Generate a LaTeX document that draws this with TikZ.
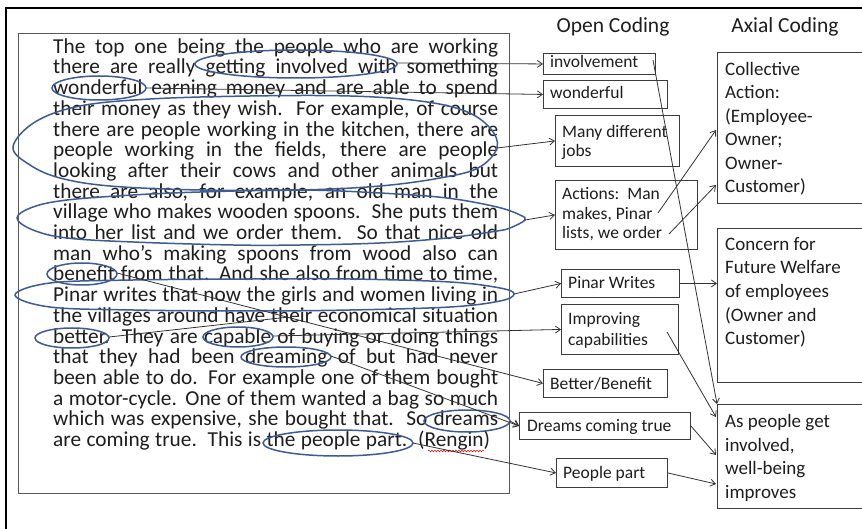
\documentclass[tikz,border=0pt]{standalone}
\usepackage{fontspec}
\setmainfont{Carlito}
\usetikzlibrary{arrows.meta,calc,decorations.pathmorphing}
\definecolor{ellblue}{RGB}{62,92,145}
\definecolor{txt}{RGB}{30,30,30}
\definecolor{boxc}{RGB}{60,60,60}
\begin{document}
\begin{tikzpicture}[x=1pt,y=-1pt,
  tl/.style={anchor=base west, inner sep=0pt, text=txt, font=\fontsize{21.3}{24}\selectfont},
  hd/.style={anchor=base, inner sep=0pt, text=txt, font=\fontsize{21.5}{24}\selectfont},
  sb/.style={draw=boxc, line width=0.9pt, anchor=north west, inner sep=0pt},
  st/.style={anchor=base west, inner sep=0pt, text=txt, font=\fontsize{17.5}{20}\selectfont},
  bt/.style={anchor=base west, inner sep=0pt, text=txt, font=\fontsize{19}{22}\selectfont},
  ell/.style={draw=ellblue, line width=1.5pt},
  arr/.style={draw=black!80, line width=0.8pt, -{Straight Barb[length=5pt,width=7pt]}},
  ln/.style={draw=black!80, line width=0.8pt}]
\useasboundingbox (0,0) rectangle (862,529);
\clip (0,0) rectangle (862,529);
\fill[white] (0,0) rectangle (862,529);
% outer frame
\draw[line width=2.7pt] (6,531) -- (6,8) -- (864,8);
% main text box
\node[draw=gray!70!black, line width=1.4pt, anchor=north west, minimum width=491pt, minimum height=460pt, inner sep=0pt] (tb) at (18,33) {};
% text lines
\node[tl] (t1) at (53,53.3) {\makebox[445pt][s]{The top one being the people who are working}};
\node[tl] (t2) at (53,74.0) {\makebox[445pt][s]{there are really getting involved with something}};
\node[tl] (t3) at (53,94.7) {\makebox[445pt][s]{wonderful earning money and are able to spend}};
\node[tl] (t4) at (53,115.4) {\makebox[445pt][s]{their money as they wish.\ \ For example, of course}};
\node[tl] (t5) at (53,136.1) {\makebox[445pt][s]{there are people working in the kitchen, there are}};
\node[tl] (t6) at (53,156.8) {\makebox[445pt][s]{people working in the fields, there are people}};
\node[tl] (t7) at (53,177.5) {\makebox[445pt][s]{looking after their cows and other animals but}};
\node[tl] (t8) at (53,198.2) {\makebox[445pt][s]{there are also, for example, an old man in the}};
\node[tl] (t9) at (53,218.9) {\makebox[445pt][s]{village who makes wooden spoons.\ \ She puts them}};
\node[tl] (t10) at (53,239.6) {\makebox[445pt][s]{into her list and we order them.\ \ So that nice old}};
\node[tl] (t11) at (53,260.3) {\makebox[445pt][s]{man who’s making spoons from wood also can}};
\node[tl] (t12) at (53,281.0) {\makebox[445pt][s]{benefit from that. And she also from time to time,}};
\node[tl] (t13) at (53,301.7) {\makebox[445pt][s]{Pinar writes that now the girls and women living in}};
\node[tl] (t14) at (53,322.4) {\makebox[445pt][s]{the villages around have their economical situation}};
\node[tl] (t15) at (53,343.1) {\makebox[445pt][s]{better.\ \ They are capable of buying or doing things}};
\node[tl] (t16) at (53,363.8) {\makebox[445pt][s]{that they had been dreaming of but had never}};
\node[tl] (t17) at (53,384.5) {\makebox[445pt][s]{been able to do. For example one of them bought}};
\node[tl] (t18) at (53,405.2) {\makebox[445pt][s]{a motor-cycle. One of them wanted a bag so much}};
\node[tl] (t19) at (53,425.9) {\makebox[445pt][s]{which was expensive, she bought that.\ \ So dreams}};
\node[tl] (t20) at (53,446.6) {\makebox[437pt][s]{are coming true.\ \ This is the people part.\ \ (Rengin)}};
\draw[red, line width=0.6pt, decorate, decoration={snake, segment length=3pt, amplitude=0.7pt}] (428,451) -- (484,451);
% headers
\node[hd] (h1) at (613,33) {Open Coding};
\node[hd] (h2) at (785,33) {Axial Coding};
% open coding boxes
\node[sb, minimum width=112pt, minimum height=21pt] (inv) at (543,53) {};
\node[st] (inv1) at (550,68) {involvement};
\node[sb, minimum width=124pt, minimum height=28pt] (won) at (543,80) {};
\node[st] (won1) at (550,99) {wonderful};
\node[sb, minimum width=124pt, minimum height=51pt] (many) at (555,115) {};
\node[st] (many1) at (562,138) {Many different};
\node[st] (many2) at (562,157) {jobs};
\node[sb, minimum width=142pt, minimum height=69pt] (act) at (555,180) {};
\node[st] (act1) at (562,200) {Actions:\ \ Man};
\node[st] (act2) at (562,219.5) {makes, Pinar};
\node[st] (act3) at (562,239) {lists, we order};
\node[sb, minimum width=118pt, minimum height=28pt] (pin) at (561,269) {};
\node[st] (pin1) at (568,289) {Pinar Writes};
\node[sb, minimum width=117pt, minimum height=50pt] (imp) at (561,304) {};
\node[st] (imp1) at (568,324) {Improving};
\node[st] (imp2) at (568,345) {capabilities};
\node[sb, minimum width=124pt, minimum height=28pt] (bb) at (543,369) {};
\node[st] (bb1) at (550,389) {Better/Benefit};
\node[sb, minimum width=171pt, minimum height=27pt] (dct) at (519,412) {};
\node[st] (dct1) at (527,431) {Dreams coming true};
\node[sb, minimum width=111pt, minimum height=29pt] (pp) at (556,458) {};
\node[st] (pp1) at (563,478) {People part};
% axial coding boxes
\node[sb, minimum width=160pt, minimum height=151pt] (coll) at (717,52) {};
\node[bt] (coll1) at (725,75.5) {Collective};
\node[bt] (coll2) at (725,99) {Action:};
\node[bt] (coll3) at (725,122.5) {(Employee-};
\node[bt] (coll4) at (725,146) {Owner;};
\node[bt] (coll5) at (725,169.5) {Owner-};
\node[bt] (coll6) at (725,193) {Customer)};
\node[sb, minimum width=160pt, minimum height=154pt] (conc) at (717,228) {};
\node[bt] (conc1) at (725,250.5) {Concern for};
\node[bt] (conc2) at (725,274) {Future Welfare};
\node[bt] (conc3) at (725,297.5) {of employees};
\node[bt] (conc4) at (725,321) {(Owner and};
\node[bt] (conc5) at (725,344.5) {Customer)};
\node[sb, minimum width=160pt, minimum height=104pt] (asp) at (717,404) {};
\node[bt] (asp1t) at (725,427.5) {As people get};
\node[bt] (asp2t) at (725,451) {involved,};
\node[bt] (asp3t) at (725,474.5) {well-being};
\node[bt] (asp4t) at (725,498) {improves};
% ellipses
\draw[ell] (296,64) ellipse [x radius=101pt, y radius=14pt];
\coordinate (e1r) at (397,63);
\draw[ell] (99,88) ellipse [x radius=47pt, y radius=12pt];
\coordinate (e2r) at (146,88);
\draw[ell] plot[smooth cycle, tension=0.6] coordinates {(13,147) (35,122) (80,106) (150,99) (250,96) (350,96) (420,101) (465,111) (490,128) (497,148) (478,168) (440,178) (380,186) (300,190) (200,190) (110,186) (60,178) (30,165)};
\coordinate (e3r) at (497,148);
\draw[ell] plot[smooth cycle, tension=0.6] coordinates {(17,218) (33,207) (67,200) (133,195) (200,192) (300,190) (380,193) (447,198) (497,207) (520,215) (525,220) (510,228) (497,231) (447,238) (380,243) (300,245) (233,245) (133,242) (67,238) (33,230)};
\coordinate (e4r) at (525,220);
\draw[ell] (82,274) ellipse [x radius=35pt, y radius=11pt];
\coordinate (e5r) at (117,273);
\draw[ell] plot[smooth cycle, tension=0.6] coordinates {(15,295) (50,283) (133,280) (250,279) (350,279) (450,282) (500,288) (514,294) (500,301) (450,307) (350,310) (250,311) (133,310) (50,307)};
\coordinate (e6r) at (514,294);
\draw[ell] (72,338) ellipse [x radius=37pt, y radius=10pt];
\coordinate (e7r) at (109,337);
\draw[ell] (238,337) ellipse [x radius=35pt, y radius=10pt];
\coordinate (e8r) at (273,336);
\draw[ell] (286,357) ellipse [x radius=45pt, y radius=10pt];
\coordinate (e9r) at (331,356);
\draw[ell] (467,421) ellipse [x radius=43pt, y radius=11pt];
\coordinate (e10r) at (510,421);
\draw[ell] (338,443) ellipse [x radius=75pt, y radius=13pt];
\coordinate (e11r) at (413,443);
% connectors text -> open coding
\draw[arr] (e1r) -- (inv.west);
\draw[arr] (e2r) -- (won.west);
\draw[arr] (e3r) -- (many.west);
\draw[arr] (e4r) -- (act.west);
\draw[arr] (e6r) -- (pin.west);
\draw[arr] (e5r) -- (bb.west);
\coordinate (bj) at ($(e5r)!0.4!(bb.west)$);
\draw[ln] (e7r) -- (bj);
\draw[arr] (e8r) -- (imp.west);
\draw[arr] (e9r) -- (dct.west);
\draw[arr] (e10r) -- (dct.west);
\draw[arr] (e11r) -- (pp.west);
% open -> axial
\coordinate (invs) at (653,60);
\draw[arr] (invs) -- (asp.north west);
\coordinate (a1) at (658,213);
\coordinate (c1) at (716,130);
\draw[arr] (a1) -- (c1);
\coordinate (a2) at (669,234);
\coordinate (c2) at (716,185);
\draw[arr] (a2) -- (c2);
\draw[arr] (pin.east) -- (pin.east -| conc.west);
\coordinate (ims) at (667,332);
\coordinate (aq1) at (716,417);
\draw[arr] (ims) -- (aq1);
\coordinate (aq2) at (716,455);
\draw[arr] (dct.east) -- (aq2);
\coordinate (aq3) at (716,484);
\draw[arr] (pp.east) -- (aq3);
\end{tikzpicture}
\end{document}
